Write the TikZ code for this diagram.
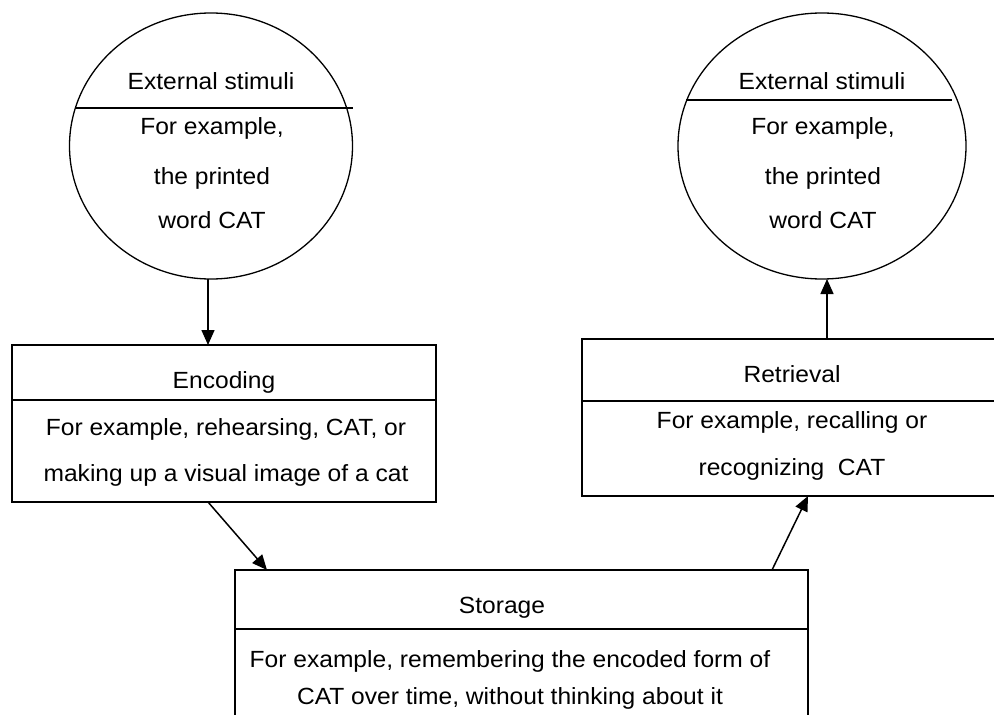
\documentclass[tikz,border=0pt]{standalone}
\usepackage{fontspec}
\setmainfont{Liberation Sans}[FakeStretch=1.05]
\usetikzlibrary{shapes.geometric,arrows.meta}

\begin{document}
\begin{tikzpicture}[
        x=1bp, y=-1bp,
        stimulus/.style={ellipse, draw, line width=1.3bp, inner sep=0pt, outer sep=0pt},
        stagebox/.style={rectangle, draw, line width=1.5bp, inner sep=0pt, outer sep=0pt},
        txt/.style={anchor=base, inner sep=0pt, font=\fontsize{23.5}{28}\selectfont},
        arrow/.style={-{Triangle[length=15bp,width=13bp]}, line width=1.5bp}
    ]
        \clip (0,0) rectangle (994,715);

        % the two stimulus circles
        \node[stimulus, minimum width=283bp, minimum height=266bp] (stimL) at (211,146) {};
        \node[stimulus, minimum width=288bp, minimum height=266bp] (stimR) at (822,146) {};
        \draw[line width=1.3bp] (76,108) -- (353,108);
        \draw[line width=1.3bp] (686,100) -- (952,100);

        \node[txt] (stimLtitle) at (211,90) {External stimuli};
        \node[txt] (stimLa) at (212,135) {For example,};
        \node[txt] (stimLb) at (212,185) {the printed};
        \node[txt] (stimLc) at (212,228) {word CAT};

        \node[txt] (stimRtitle) at (822,90) {External stimuli};
        \node[txt] (stimRa) at (823,135) {For example,};
        \node[txt] (stimRb) at (823,185) {the printed};
        \node[txt] (stimRc) at (823,228) {word CAT};

        % stage boxes
        \node[stagebox, minimum width=424bp, minimum height=157bp] (enc) at (224,423.5) {};
        \draw[line width=1.5bp] (enc.west |- 0,400) -- (enc.east |- 0,400);
        \node[txt] (enctitle) at (224,388) {Encoding};
        \node[txt] (enca) at (226,435) {For example, rehearsing, CAT, or};
        \node[txt] (encb) at (226,481) {making up a visual image of a cat};

        \node[stagebox, minimum width=420bp, minimum height=157bp] (retr) at (792,417.5) {};
        \draw[line width=1.5bp] (retr.west |- 0,401) -- (retr.east |- 0,401);
        \node[txt] (retrtitle) at (792,382) {Retrieval};
        \node[txt] (retra) at (792,428) {For example, recalling or};
        \node[txt] (retrb) at (792,475) {recognizing~ CAT};

        \node[stagebox, minimum width=573bp, minimum height=190bp] (stor) at (521.5,665) {};
        \draw[line width=1.5bp] (stor.west |- 0,629) -- (stor.east |- 0,629);
        \node[txt] (stortitle) at (502,613) {Storage};
        \node[txt] (stora) at (510,667) {For example, remembering the encoded form of};
        \node[txt] (storb) at (510,704) {CAT over time, without thinking about it};

        % connectors
        \draw[arrow] ([xshift=-3bp]stimL.south) -- ([xshift=-3bp]stimL.south |- enc.north);
        \draw[arrow] ([xshift=-16bp]enc.south) -- ([xshift=32bp]stor.north west);
        \draw[arrow] ([xshift=-36bp]stor.north east) -- ([xshift=226bp]retr.south west);
        \draw[arrow] ([xshift=5bp]stimR.south |- retr.north) -- ([xshift=5bp]stimR.south);
    \end{tikzpicture}
\end{document}
